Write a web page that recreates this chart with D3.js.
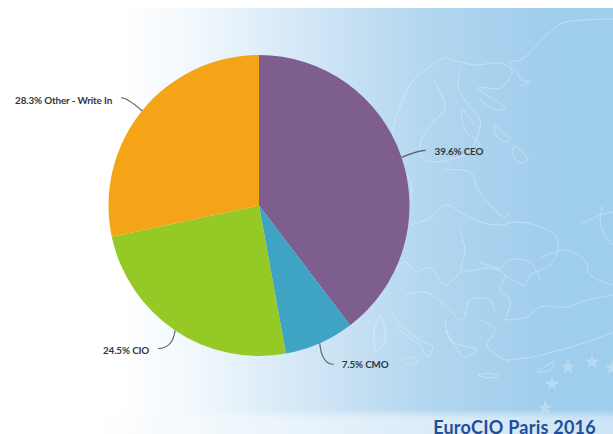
<!DOCTYPE html>
<html>
<head>
<meta charset="utf-8">
<script src="https://cdn.jsdelivr.net/npm/d3@7"></script>
<style>
    html, body { margin: 0; padding: 0; background: #fff; overflow: hidden; }
    svg { display: block; }
    text { font-family: Lato, "Open Sans", sans-serif; }
</style>
</head>
<body>
<svg id="chart" width="613" height="434"></svg>
<script>
// chart values
const categories = ["CEO", "CMO", "CIO", "Other - Write In"];
const shares = [39.6, 7.5, 24.5, 28.3];
const sliceColors = ["#7d5e8f", "#3fa3c4", "#95c926", "#f5a417"];
const footerTitle = "EuroCIO Paris 2016";

// leader line ends and label anchors, relative to the slice edge point
const leaderEnds = [[24, -7], [14, 21], [-17, 18], [-21, -13]];
const labelAnchors = ["start", "start", "end", "end"];
const labelGaps = [9, 8, 9, 9];
const labelDrops = [5, 3.5, 5.5, 6];

const width = 613, height = 434;
const cx = 259, cy = 205.5, radius = 150.5;

const svg = d3.select("#chart");
const defs = svg.append("defs");

const bgGrad = defs.append("linearGradient").attr("id", "bgGrad");
[[0.2, "#ffffff"], [0.33, "#f0f7fc"], [0.5, "#d2e7f6"], [0.7, "#b2d6ef"], [0.9, "#a0cdec"], [1, "#9fcdec"]].forEach(s => {
    bgGrad.append("stop").attr("offset", s[0]).attr("stop-color", s[1]);
});
const footGrad = defs.append("linearGradient").attr("id", "footGrad");
[[0.15, "#ffffff"], [0.55, "#e4f1fa"], [1, "#cde4f5"]].forEach(s => {
    footGrad.append("stop").attr("offset", s[0]).attr("stop-color", s[1]);
});
const footFade = defs.append("filter").attr("id", "footFade");
footFade.append("feGaussianBlur").attr("stdDeviation", "0 3");
defs.append("filter").attr("id", "soft")
    .append("feGaussianBlur").attr("stdDeviation", 0.3);
defs.append("filter").attr("id", "softMap")
    .append("feGaussianBlur").attr("stdDeviation", 0.45);

// background panel
svg.append("rect").attr("y", 8).attr("width", width).attr("height", 426).attr("fill", "url(#bgGrad)");
svg.append("rect").attr("y", 414).attr("width", width).attr("height", 40)
    .attr("fill", "url(#footGrad)").attr("filter", "url(#footFade)");

// faint map of europe behind the pie (decoration only)
const mapOutlines = [
    [[613, 19], [562, 23], [553, 30], [542, 39], [533, 50], [520, 60], [510, 62], [517, 72], [522, 80], [530, 82], [520, 86]],
    [[445, 57], [425, 70], [410, 85], [397, 115], [393, 130], [400, 165], [410, 180], [412, 200]],
    [[445, 57], [460, 62], [476, 65], [500, 63], [512, 70], [508, 80], [500, 88], [478, 88], [495, 100], [505, 108], [497, 110], [480, 100]],
    [[433, 80], [445, 108], [430, 125], [420, 145], [425, 160], [450, 160], [470, 152], [480, 145], [465, 130], [462, 110], [475, 125]],
    [[460, 70], [458, 85], [465, 100], [480, 120], [478, 135], [470, 152]],
    [[495, 124], [502, 132], [510, 140], [505, 142], [495, 134], [495, 124]],
    [[515, 145], [525, 155], [528, 160], [520, 163], [512, 153], [515, 145]],
    [[445, 170], [470, 172], [478, 190], [490, 205], [505, 217], [510, 212]],
    [[410, 225], [430, 218], [445, 205], [465, 215], [480, 222], [500, 225], [520, 222], [555, 235], [558, 250], [550, 265], [530, 275], [525, 285], [505, 275]],
    [[460, 230], [465, 250], [462, 270], [490, 268], [505, 275], [500, 290], [510, 300], [505, 320]],
    [[462, 270], [445, 285], [430, 268], [415, 272], [405, 262], [385, 280], [370, 295]],
    [[480, 262], [500, 268], [510, 260], [530, 262], [540, 280]],
    [[405, 295], [425, 292], [445, 305], [462, 320], [470, 300], [490, 300], [495, 312]],
    [[390, 310], [400, 324], [420, 340], [433, 347], [427, 357], [420, 345], [405, 335], [395, 325]],
    [[380, 315], [385, 330], [383, 345], [376, 350], [374, 330], [380, 315]],
    [[402, 360], [413, 357], [417, 362], [408, 365], [402, 360]],
    [[445, 320], [450, 340], [457, 344], [477, 350], [463, 357], [455, 345], [445, 330]],
    [[480, 320], [495, 330], [487, 345], [497, 355], [510, 362]],
    [[505, 320], [527, 317], [540, 307], [567, 307], [587, 300], [613, 295]],
    [[507, 360], [533, 357], [560, 350], [593, 340], [613, 332]],
    [[478, 375], [488, 373], [498, 376], [488, 378], [478, 375]],
    [[537, 372], [546, 366], [554, 362], [550, 370], [537, 372]],
    [[540, 258], [565, 250], [585, 260], [590, 275], [613, 285]],
    [[613, 245], [605, 235], [600, 220], [603, 205]],
    [[580, 225], [600, 215], [613, 212]]
];
const mapLine = d3.line().curve(d3.curveCatmullRom);
svg.append("g").attr("filter", "url(#softMap)")
    .selectAll("path")
    .data(mapOutlines)
    .enter()
    .append("path")
    .attr("d", d => mapLine(d))
    .attr("fill", "none")
    .attr("stroke", "#ffffff")
    .attr("stroke-opacity", 0.32)
    .attr("stroke-width", 1);

// stars along the bottom right
const starSpots = [[545, 408], [552, 384], [568, 367], [592, 362], [612, 368]];
svg.append("g").attr("filter", "url(#softMap)").selectAll("path")
    .data(starSpots)
    .enter()
    .append("path")
    .attr("transform", d => `translate(${d[0]},${d[1]})`)
    .attr("d", d3.symbol().type(d3.symbolStar).size(70))
    .attr("fill", "#ffffff")
    .attr("fill-opacity", 0.25);

// pie
const pie = d3.pie().sort(null).value(d => d.value);
const arc = d3.arc().innerRadius(0).outerRadius(radius);
const edgeArc = d3.arc().innerRadius(radius).outerRadius(radius);

const slices = pie(categories.map((name, i) => ({ name: name, value: shares[i], index: i })));

const chart = svg.append("g").attr("transform", `translate(${cx},${cy})`);

chart.selectAll("path.slice")
    .data(slices)
    .enter()
    .append("path")
    .attr("class", "slice")
    .attr("d", arc)
    .attr("fill", d => sliceColors[d.data.index]);

// leader lines, bent a little near the label
const leaders = chart.append("g").attr("filter", "url(#soft)");
slices.forEach(d => {
    const p = edgeArc.centroid(d);
    const e = leaderEnds[d.data.index];
    const end = [p[0] + e[0], p[1] + e[1]];
    const ctrl = Math.abs(e[0]) > Math.abs(e[1])
        ? [p[0] + e[0] * 0.7, p[1] + e[1]]
        : [p[0] + e[0] * 0.15, p[1] + e[1]];
    const lp = d3.path();
    lp.moveTo(p[0], p[1]);
    lp.quadraticCurveTo(ctrl[0], ctrl[1], end[0], end[1]);
    leaders.append("path")
        .attr("d", lp.toString())
        .attr("fill", "none")
        .attr("stroke", "#555a60")
        .attr("stroke-width", 1.1);

    const anchor = labelAnchors[d.data.index];
    const gap = labelGaps[d.data.index];
    chart.append("text")
        .attr("x", end[0] + (anchor === "start" ? gap : -gap))
        .attr("y", end[1] + labelDrops[d.data.index])
        .attr("text-anchor", anchor)
        .attr("font-size", 9.9)
        .attr("font-weight", 700)
        .attr("letter-spacing", -0.15)
        .attr("fill", "#33373d")
        .text(`${d.data.value.toFixed(1)}% ${d.data.name}`);
});

// footer title, sits right on the bottom of the slide
svg.append("text")
    .attr("x", 596)
    .attr("y", 433.5)
    .attr("text-anchor", "end")
    .attr("font-size", 18)
    .attr("font-weight", 700)
    .attr("letter-spacing", 0.25)
    .attr("fill", "#1f4e9b")
    .text(footerTitle);
</script>
</body>
</html>
